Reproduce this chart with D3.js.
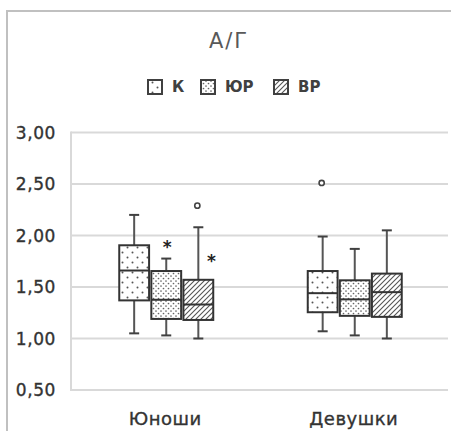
<!DOCTYPE html>
<html><head><meta charset="utf-8">
<script src="https://cdn.jsdelivr.net/npm/d3@7"></script>
<style>html,body{margin:0;padding:0;background:#fff;}</style>
</head><body>
<svg id="c" width="451" height="431"></svg>
<script>
const title = "А/Г";
const groups = ["Юноши", "Девушки"];
const series = ["К", "ЮР", "ВР"];
const yTicks = [0.5, 1.0, 1.5, 2.0, 2.5, 3.0];
// [min, q1, median, q3, max] per group, per series
const statsК  = [[1.05, 1.37, 1.66, 1.905, 2.20], [1.07, 1.255, 1.44, 1.655, 1.99]];
const statsЮР = [[1.03, 1.19, 1.376, 1.655, 1.776], [1.03, 1.22, 1.38, 1.565, 1.87]];
const statsВР = [[1.00, 1.18, 1.33, 1.57, 2.08], [1.00, 1.21, 1.45, 1.63, 2.05]];
const outliers = [{g: "Юноши", s: "ВР", v: 2.29}, {g: "Девушки", s: "К", v: 2.51}];
const stars = [{g: "Юноши", s: "ЮР", v: 1.93}, {g: "Юноши", s: "ВР", v: 1.80}];

(function () {
const svg = d3.select("#c");
const W = 451, H = 431;
const pL = 71, pR = 448, pT = 132.5, pB = 390;
const font = "'DejaVu Sans', Verdana, sans-serif";

// patterns
const defs = svg.append("defs");
const pK = defs.append("pattern").attr("id", "pK").attr("patternUnits", "userSpaceOnUse").attr("width", 10).attr("height", 10);
pK.append("rect").attr("width", 10).attr("height", 10).attr("fill", "#fff");
pK.append("circle").attr("cx", 2.5).attr("cy", 2.5).attr("r", 1).attr("fill", "#555");
pK.append("circle").attr("cx", 7.5).attr("cy", 7.5).attr("r", 1).attr("fill", "#555");
const pJ = defs.append("pattern").attr("id", "pJ").attr("patternUnits", "userSpaceOnUse").attr("width", 5).attr("height", 5);
pJ.append("rect").attr("width", 5).attr("height", 5).attr("fill", "#fff");
pJ.append("circle").attr("cx", 1).attr("cy", 1).attr("r", 0.85).attr("fill", "#666");
pJ.append("circle").attr("cx", 3.5).attr("cy", 3.5).attr("r", 0.85).attr("fill", "#666");
const pV = defs.append("pattern").attr("id", "pV").attr("patternUnits", "userSpaceOnUse").attr("width", 5).attr("height", 5);
pV.append("rect").attr("width", 5).attr("height", 5).attr("fill", "#fff");
pV.append("path").attr("d", "M-1,6 L6,-1 M-1,1 L1,-1 M4,6 L6,4").attr("stroke", "#555").attr("stroke-width", 1.1);
const fills = {"К": "url(#pK)", "ЮР": "url(#pJ)", "ВР": "url(#pV)"};
const statsBy = {"К": statsК, "ЮР": statsЮР, "ВР": statsВР};

// frame
svg.append("path").attr("d", `M7,${H} V11 H${W}`).attr("fill", "none").attr("stroke", "#c0c0c0").attr("stroke-width", 2);

const y = d3.scaleLinear().domain([0.5, 3.0]).range([pB, pT]);
const x0 = d3.scaleBand().domain(groups).range([pL, pR]);
const x1 = d3.scaleBand().domain(series).range([-46, 48]).paddingInner(0.07);

// gridlines
svg.append("g").selectAll("line").data(yTicks).join("line")
  .attr("x1", pL).attr("x2", pR).attr("y1", d => y(d)).attr("y2", d => y(d))
  .attr("stroke", "#d9d9d9").attr("stroke-width", 2);
svg.append("line").attr("x1", pL).attr("x2", pL).attr("y1", pT - 1).attr("y2", pB + 1)
  .attr("stroke", "#d9d9d9").attr("stroke-width", 2);

// y labels
const fmt = d => d3.format(".2f")(d).replace(".", ",");
svg.append("g").selectAll("text").data(yTicks).join("text")
  .attr("x", 56).attr("y", d => y(d)).attr("dy", "0.36em").attr("text-anchor", "end")
  .attr("font-family", font).attr("font-size", 17).attr("letter-spacing", 0.6)
  .attr("fill", "#333").attr("stroke", "#333").attr("stroke-width", 0.35).text(fmt);

// x labels
svg.append("g").selectAll("text").data(groups).join("text")
  .attr("x", d => x0(d) + x0.bandwidth() / 2).attr("y", 419).attr("dy", "0.35em").attr("text-anchor", "middle")
  .attr("font-family", font).attr("font-size", 18).attr("letter-spacing", 0.5)
  .attr("fill", "#333").attr("stroke", "#333").attr("stroke-width", 0.35).text(d => d);

// boxes
const boxes = [];
groups.forEach((g, gi) => series.forEach(s => boxes.push({g, s, st: statsBy[s][gi]})));
const cx = (g, s) => x0(g) + x0.bandwidth() / 2 + x1(s) + x1.bandwidth() / 2;
const bw = x1.bandwidth();
const bg = svg.append("g");
boxes.forEach(b => {
  const c = cx(b.g, b.s), [mn, q1, md, q3, mx] = b.st;
  bg.append("line").attr("x1", c).attr("x2", c).attr("y1", y(mx)).attr("y2", y(q3)).attr("stroke", "#555").attr("stroke-width", 2);
  bg.append("line").attr("x1", c).attr("x2", c).attr("y1", y(q1)).attr("y2", y(mn)).attr("stroke", "#555").attr("stroke-width", 2);
  [mx, mn].forEach(v => bg.append("line").attr("x1", c - 5).attr("x2", c + 5).attr("y1", y(v)).attr("y2", y(v)).attr("stroke", "#404040").attr("stroke-width", 2));
  bg.append("rect").attr("x", c - bw / 2).attr("y", y(q3)).attr("width", bw).attr("height", y(q1) - y(q3))
    .attr("fill", fills[b.s]).attr("stroke", "#333").attr("stroke-width", 2);
  bg.append("line").attr("x1", c - bw / 2).attr("x2", c + bw / 2).attr("y1", y(md)).attr("y2", y(md)).attr("stroke", "#333").attr("stroke-width", 2);
});

// outliers
svg.append("g").selectAll("circle").data(outliers).join("circle")
  .attr("cx", d => cx(d.g, d.s) - 1).attr("cy", d => y(d.v)).attr("r", 2.6)
  .attr("fill", "#fff").attr("stroke", "#444").attr("stroke-width", 1.6);

// stars
const starDx = [1, 13];
svg.append("g").selectAll("text").data(stars).join("text")
  .attr("x", (d, i) => cx(d.g, d.s) + starDx[i]).attr("y", d => y(d.v)).attr("dy", "0.62em").attr("text-anchor", "middle")
  .attr("font-family", font).attr("font-size", 17).attr("font-weight", "bold").attr("fill", "#222").text("*");

// title
svg.append("text").attr("x", 229).attr("y", 41).attr("dy", "0.35em").attr("text-anchor", "middle")
  .attr("font-family", font).attr("font-size", 21).attr("letter-spacing", 2).attr("fill", "#595959").text(title);

// legend
const legX = [148, 201, 274];
const lg = svg.append("g");
series.forEach((s, i) => {
  lg.append("rect").attr("x", legX[i]).attr("y", 80).attr("width", 14).attr("height", 14)
    .attr("fill", fills[s]).attr("stroke", "#404040").attr("stroke-width", 2);
  lg.append("text").attr("x", legX[i] + 24).attr("y", 87).attr("dy", "0.36em")
    .attr("font-family", font).attr("font-size", 15).attr("font-weight", "bold").attr("fill", "#404040").text(s);
});
})();
</script>
</body></html>
